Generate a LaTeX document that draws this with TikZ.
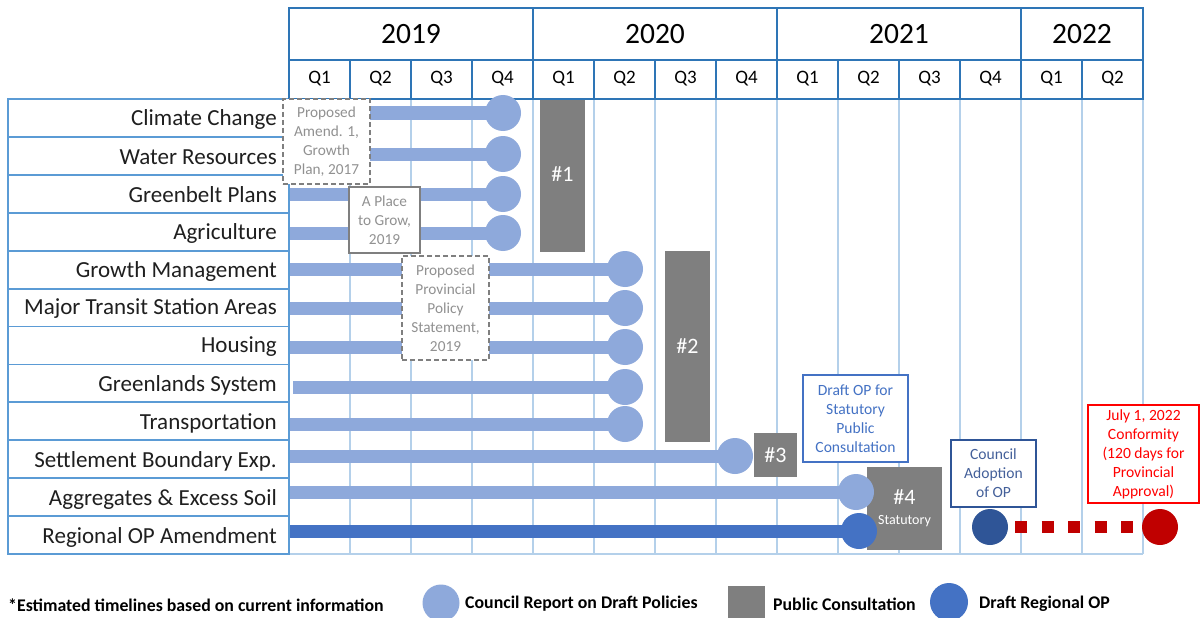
\documentclass[tikz,border=0pt]{standalone}
\usepackage{fontspec}
\setmainfont{Carlito}
\usetikzlibrary{calc}
\definecolor{hdr}{HTML}{2E75B6}
\definecolor{gridc}{HTML}{B4D0EA}
\definecolor{lblc}{HTML}{5B9BD5}
\definecolor{barc}{HTML}{8EA9DB}
\definecolor{rop}{HTML}{4472C4}
\definecolor{dk}{HTML}{2F5597}
\definecolor{gr}{HTML}{7F7F7F}
\definecolor{redd}{HTML}{C00000}
\definecolor{redb}{HTML}{FF0000}
\definecolor{anntxt}{HTML}{919191}
\definecolor{dktxt}{HTML}{44609A}
\pgfdeclarelayer{bg}
\pgfdeclarelayer{bars}
\pgfsetlayers{bg,bars,main}
\begin{document}
\begin{tikzpicture}[x=1pt,y=-1pt,
  lab/.style={anchor=east,font=\fontsize{23}{26}\selectfont,text=black!88,inner sep=0},
  yr/.style={font=\fontsize{29.5}{32}\selectfont,inner sep=0},
  qt/.style={font=\fontsize{19}{21}\selectfont,inner sep=0},
  dot/.style={circle,fill=barc,minimum size=36pt,inner sep=0},
  bar/.style={line width=13pt,barc},
  gbox/.style={fill=gr,text=white,inner sep=0,font=\fontsize{22}{24}\selectfont},
  ann/.style={draw=gr,fill=white,line width=2pt,text=anntxt,align=center,font=\fontsize{15.3}{19}\selectfont,inner sep=0},
  dashbox/.style={ann,dash pattern=on 5pt off 3pt},
  cbox/.style={fill=white,line width=2.5pt,align=center,font=\fontsize{15.6}{19}\selectfont,inner sep=0},
  leg/.style={anchor=west,font=\bfseries\fontsize{17.8}{20}\selectfont,inner sep=0},
]
\useasboundingbox (0,0) rectangle (1203,618);

% background and grid
\begin{pgfonlayer}{bg}
\fill[white] (0,0) rectangle (1203,618);
\foreach \k in {1,...,14}{
  \draw[gridc,line width=1.8pt] (289+61*\k,99) -- (289+61*\k,554);
}
\draw[gridc,line width=1.8pt] (289,554) -- (1143,554);
\end{pgfonlayer}

% label column
\draw[lblc,line width=1.8pt] (8,99) rectangle (289,554);
\foreach \k in {1,...,11}{
  \draw[lblc,line width=1.8pt] (8,99+37.92*\k) -- (289,99+37.92*\k);
}
\node[lab] (r1) at (277,119) {Climate Change};
\node[lab] (r2) at (277,157) {Water Resources};
\node[lab] (r3) at (277,195) {Greenbelt Plans};
\node[lab] (r4) at (277,233) {Agriculture};
\node[lab] (r5) at (277,271) {Growth Management};
\node[lab] (r6) at (277,309) {Major Transit Station Areas};
\node[lab] (r7) at (277,347) {Housing};
\node[lab] (r8) at (277,385) {Greenlands System};
\node[lab] (r9) at (277,423) {Transportation};
\node[lab] (r10) at (277,461) {Settlement Boundary Exp.};
\node[lab] (r11) at (277,499) {Aggregates \& Excess Soil};
\node[lab] (r12) at (277,537) {Regional OP Amendment};

% header
\draw[hdr,line width=2.5pt] (289,8) rectangle (1143,99);
\draw[hdr,line width=2.5pt] (289,60) -- (1143,60);
\foreach \k in {4,8,12}{ \draw[hdr,line width=2.5pt] (289+61*\k,8) -- (289+61*\k,99); }
\foreach \k in {1,2,3,5,6,7,9,10,11,13}{ \draw[hdr,line width=2.5pt] (289+61*\k,60) -- (289+61*\k,99); }
\node[yr] (y19) at (411,34) {2019};
\node[yr] (y20) at (655,34) {2020};
\node[yr] (y21) at (899,34) {2021};
\node[yr] (y22) at (1082,34) {2022};
\foreach \k/\q in {0/1,1/2,2/3,3/4,4/1,5/2,6/3,7/4,8/1,9/2,10/3,11/4,12/1,13/2}{
  \node[qt] (q\k) at (289+61*\k+30.5,79) {Q\q};
}

% consultation boxes
\node[gbox,minimum width=45pt,minimum height=152pt] (g1) at (562.5,176) {\raisebox{4pt}{\#1}};
\node[gbox,minimum width=45pt,minimum height=191pt] (g2) at (687.5,346.5) {\#2};
\node[gbox,minimum width=43pt,minimum height=44pt] (g3) at (775.5,455) {\#3};
\node[gbox,minimum width=75pt,minimum height=83pt,align=center] (g4) at (904.5,508.5) {\#4\\[-4pt]{\fontsize{14}{16}\selectfont Statutory}};

% circles (milestones)
\foreach \i/\cx/\cy in {1/503/113, 2/503/154, 3/503/194, 4/503/233, 5/625/269, 6/625/308, 7/625/347, 8/625/387, 9/625/424, 10/735/456, 11/856/492}{
  \node[dot] (c\i) at (\cx,\cy) {};
  \coordinate (s\i) at (289,\cy);
}
\coordinate (s8) at (293,387);
\node[dot,fill=rop] (c12) at (859,531) {};
\coordinate (s12) at (289,531);

\begin{pgfonlayer}{bars}
\foreach \i in {1,...,11}{ \draw[bar] (s\i) -- (c\i.center); }
\draw[bar,rop] (s12) -- (c12.center);
\end{pgfonlayer}

% annotation boxes
\node[dashbox,minimum width=87pt,minimum height=85pt] (a1) at (326.5,141.5) {Proposed\\Amend. 1,\\Growth\\Plan, 2017};
\node[ann,minimum width=71pt,minimum height=66pt] (a2) at (384.5,220) {A Place\\to Grow,\\2019};
\node[dashbox,minimum width=87pt,minimum height=104pt] (a3) at (445.5,308) {Proposed\\Provincial\\Policy\\Statement,\\2019};

\node[cbox,draw=rop,text=rop,minimum width=105pt,minimum height=87pt] (draft) at (855.5,418.5) {Draft OP for\\Statutory\\Public\\Consultation};
\node[cbox,draw=dk,text=dktxt,minimum width=85pt,minimum height=67pt] (council) at (993.5,473.5) {Council\\Adoption\\of OP};
\node[cbox,draw=redb,text=redb,minimum width=111pt,minimum height=98pt] (july) at (1143.5,454) {July 1, 2022\\Conformity\\(120 days for\\Provincial\\Approval)};

% final milestones
\node[dot,fill=dk] (adopt) at (990,527) {};
\node[dot,fill=redd] (conf) at (1160,527) {};
\draw[redd,line width=12pt,dash pattern=on 12pt off 14.5pt,shorten <=7pt,shorten >=9pt] (adopt) -- (conf);

% legend
\node[leg] (note) at (8,605) {*Estimated timelines based on current information};
\node[dot,minimum size=37pt] (lg1) at (441,603) {};
\node[leg] (lt1) at (465,604) {Council Report on Draft Policies};
\node[fill=gr,minimum width=37pt,minimum height=36pt,inner sep=0] (lg2) at (746.5,604) {};
\node[leg] (lt2) at (773,604) {Public Consultation};
\node[dot,fill=rop,minimum size=38pt] (lg3) at (949,602) {};
\node[leg] (lt3) at (979,604) {Draft Regional OP};
\end{tikzpicture}
\end{document}
